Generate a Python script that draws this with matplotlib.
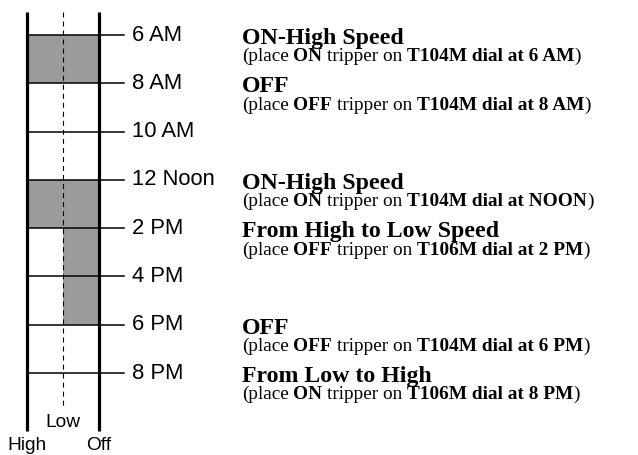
import matplotlib
matplotlib.use("Agg")
import matplotlib.pyplot as plt

# ---- data ----
times = ["6 AM", "8 AM", "10 AM", "12 Noon", "2 PM", "4 PM", "6 PM", "8 PM"]
columns = ["High", "Low", "Off"]          # x positions 0, 1, 2
# shaded blocks: (start time index, end time index, speed column it starts from)
blocks_start = [0, 3, 4]
blocks_end = [1, 4, 6]
blocks_speed = ["High", "High", "Low"]

# notes: (time index, heading, [(text, bold), ...])
note_idx = [0, 1, 3, 4, 6, 7]
note_head = ["ON-High Speed", "OFF", "ON-High Speed", "From High to Low Speed",
             "OFF", "From Low to High"]
note_sub = [
    [("(place", False), ("ON", True), ("tripper on", False), ("T104M dial at 6 AM", True), (")", False)],
    [("(place", False), ("OFF", True), ("tripper on", False), ("T104M dial at 8 AM", True), (")", False)],
    [("(place", False), ("ON", True), ("tripper on", False), ("T104M dial at NOON", True), (")", False)],
    [("(place", False), ("OFF", True), ("tripper on", False), ("T106M dial at 2 PM", True), (")", False)],
    [("(place", False), ("OFF", True), ("tripper on", False), ("T104M dial at 6 PM", True), (")", False)],
    [("(place", False), ("ON", True), ("tripper on", False), ("T106M dial at 8 PM", True), (")", False)],
]

plt.rcParams['lines.scale_dashes'] = False
fig = plt.figure(figsize=(6.38, 4.55), dpi=100)
ax = fig.add_axes([0, 0, 1, 1])
ax.set_xlim(-0.754, 17.07)
ax.set_ylim(8.696, -0.725)
ax.axis("off")

xpos = {c: i for i, c in enumerate(columns)}
gray = "#9b9b9b"
for s, e, sp in zip(blocks_start, blocks_end, blocks_speed):
    x0 = xpos[sp]
    ax.fill_between([x0, 2], s, e, color=gray, lw=0, zorder=1)

# horizontal time lines
for i, t in enumerate(times):
    ax.plot([0, 2.71], [i, i], color="black", lw=1.1, zorder=3)
    ax.text(2.94, i, t, fontsize=15.8, family="Liberation Sans",
            va="center", ha="left")

# vertical lines
ax.plot([0, 0], [-0.48, 8.2], color="black", lw=2.3, zorder=4, solid_capstyle="butt")
ax.plot([2, 2], [-0.48, 8.2], color="black", lw=2.3, zorder=4, solid_capstyle="butt")
ax.plot([1, 1], [-0.48, 7.72], color="black", lw=0.8, ls=(0, (3.6, 2.9)), zorder=2)

# column labels
ax.text(1, 8.02, "Low", fontsize=13.8, family="Liberation Sans", ha="center", va="center")
ax.text(0, 8.5, "High", fontsize=13.8, family="Liberation Sans", ha="center", va="center")
ax.text(2, 8.5, "Off", fontsize=13.8, family="Liberation Sans", ha="center", va="center")

# notes
serif = "Liberation Serif"
sub_fs = 13.9
for idx, head, sub in zip(note_idx, note_head, note_sub):
    ax.text(6.0, idx + 0.07, head, fontsize=17.2, family=serif, weight="bold",
            va="center", ha="left")
    prev = ax.text(6.0, idx + 0.45, sub[0][0], fontsize=sub_fs, family=serif,
                   weight="bold" if sub[0][1] else "normal", va="center", ha="left")
    for j, (txt, b) in enumerate(sub[1:]):
        gap = 0 if txt == ")" else sub_fs * 0.25
        prev = ax.annotate(txt, xy=(1, 0), xycoords=prev, xytext=(gap, 0),
                           textcoords="offset points", fontsize=sub_fs, family=serif,
                           weight="bold" if b else "normal", va="bottom", ha="left")

fig.savefig("out.png", dpi=100)
